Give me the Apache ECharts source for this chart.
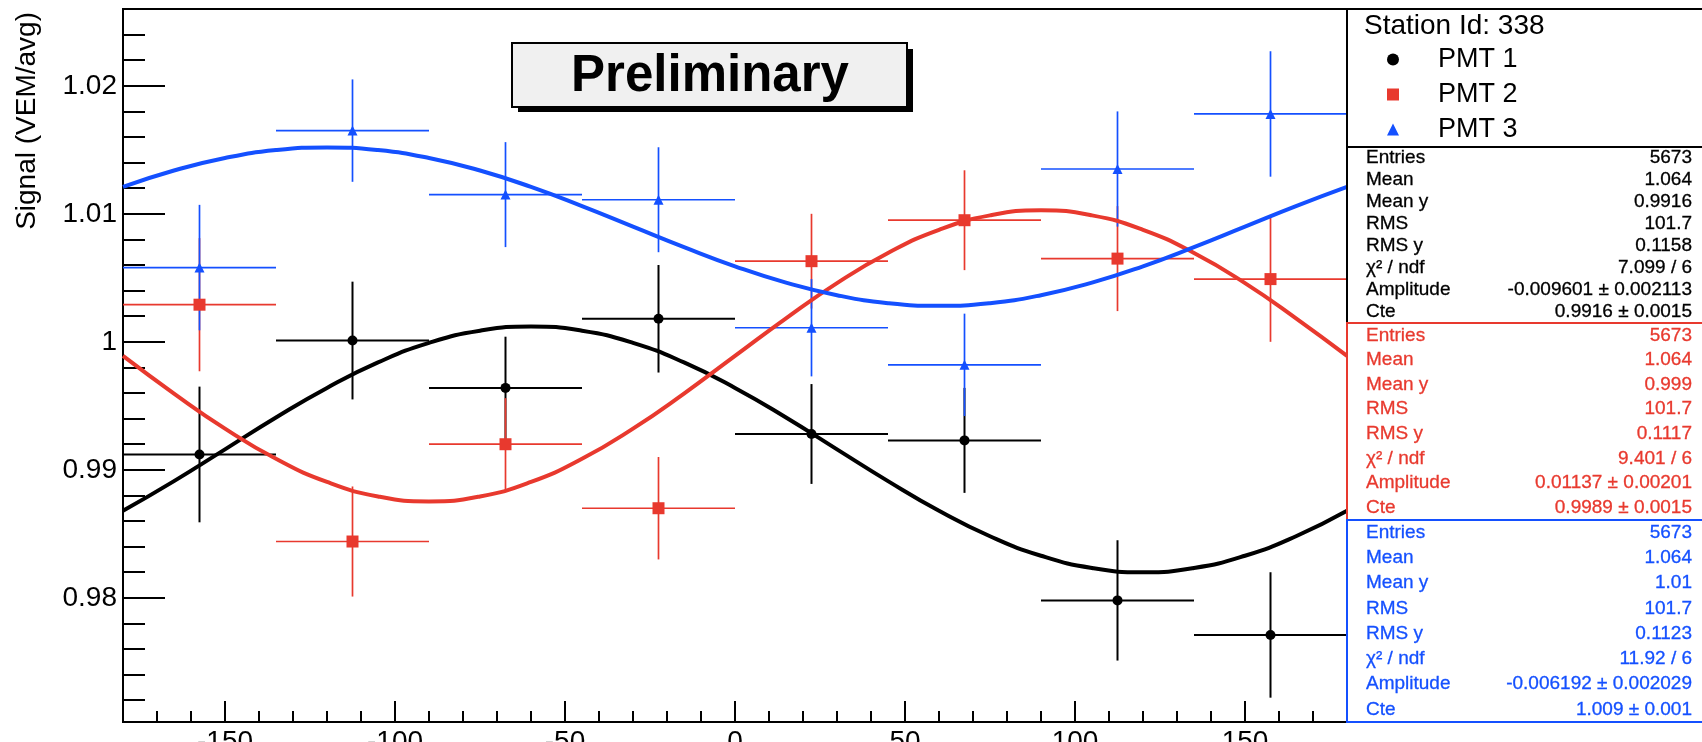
<!DOCTYPE html>
<html><head><meta charset="utf-8">
<script src="https://cdn.jsdelivr.net/npm/echarts@6/dist/echarts.min.js"></script>
<style>html,body{margin:0;padding:0;background:#fff}#c{width:1702px;height:742px}</style>
</head><body><div id="c"></div>
<script>
// ---- data ----
const xCenters     = [-157.5, -112.5, -67.5, -22.5, 22.5, 67.5, 112.5, 157.5];
const xHalfWidths  = [22.5, 22.5, 22.5, 22.5, 22.5, 22.5, 22.5, 22.5];

const pmt1Values = [0.9912, 1.0001, 0.9964, 1.0018, 0.9928, 0.9923, 0.9798, 0.9771];
const pmt1Errors = [0.0053, 0.0046, 0.0040, 0.0042, 0.0039, 0.0041, 0.0047, 0.0049];
const pmt2Values = [1.0029, 0.9844, 0.9920, 0.9870, 1.0063, 1.0095, 1.0065, 1.0049];
const pmt2Errors = [0.0052, 0.0043, 0.0036, 0.0040, 0.0037, 0.0039, 0.0041, 0.0049];
const pmt3Values = [1.0058, 1.0165, 1.0115, 1.0111, 1.0011, 0.9982, 1.0135, 1.0178];
const pmt3Errors = [0.0049, 0.0040, 0.0041, 0.0041, 0.0038, 0.0040, 0.0045, 0.0049];

// fitted curves, sampled every 15 degrees
const fitX = [-180,-165,-150,-135,-120,-105,-90,-75,-60,-45,-30,-15,0,15,30,45,60,75,90,105,120,135,150,165,180];
const pmt1Fit = [0.9868,0.98912,0.9916,0.99409,0.9964,0.99839,0.99992,1.00087,1.00120,1.00087,0.99992,0.99839,0.9964,0.99409,0.9916,0.98912,0.9868,0.98481,0.98329,0.98233,0.98200,0.98233,0.98329,0.98481,0.9868];
const pmt2Fit = [0.9989,0.99596,0.99322,0.99086,0.98905,0.98792,0.98753,0.98792,0.98905,0.99086,0.99322,0.99596,0.9989,1.00184,1.00459,1.00694,1.00875,1.00988,1.01027,1.00988,1.00875,1.00694,1.00459,1.00184,0.9989];
const pmt3Fit = [1.0121,1.01338,1.01436,1.01498,1.01519,1.01498,1.01436,1.01338,1.0121,1.0106,1.009,1.0074,1.0059,1.00462,1.00364,1.00302,1.00281,1.00302,1.00364,1.00462,1.0059,1.0074,1.009,1.0106,1.0121];

const xTickLabels = [-150, -100, -50, 0, 50, 100, 150];
const yTickLabels = [0.98, 0.99, 1, 1.01, 1.02];

const seriesNames = ['PMT 1', 'PMT 2', 'PMT 3'];
const stationTitle = 'Station Id: 338';
const yTitle = 'Signal (VEM/avg)';
const stampText = 'Preliminary';

const statLabels = ['Entries', 'Mean', 'Mean y', 'RMS', 'RMS y', 'χ² / ndf', 'Amplitude', 'Cte'];
const pmt1Stats = ['5673', '1.064', '0.9916', '101.7', '0.1158', '7.099 / 6', '-0.009601 ± 0.002113', '0.9916 ± 0.0015'];
const pmt2Stats = ['5673', '1.064', '0.999', '101.7', '0.1117', '9.401 / 6', '0.01137 ± 0.00201', '0.9989 ± 0.0015'];
const pmt3Stats = ['5673', '1.064', '1.01', '101.7', '0.1123', '11.92 / 6', '-0.006192 ± 0.002029', '1.009 ± 0.001'];

// ---- styling ----
const FONT = "'Liberation Sans', Arial, Helvetica, sans-serif";
const BLACK = '#000000', RED = '#e8392e', BLUE = '#1450ff';
const colors = [BLACK, RED, BLUE];
const symbols = ['circle', 'rect', 'triangle'];
const symbolSizes = [10, 12, 10];

const chart = echarts.init(document.getElementById('c'), null, {renderer: 'canvas'});

function errSeries(name, vals, errs, color, lw) {
  return {
    type: 'custom', name: name + ' errors', silent: true, z: 2,
    data: xCenters.map((x, i) => [x, vals[i], xHalfWidths[i], errs[i]]),
    encode: {x: 0, y: 1},
    renderItem: function (params, api) {
      const x = api.value(0), y = api.value(1), ex = api.value(2), ey = api.value(3);
      const l = api.coord([x - ex, y]), r = api.coord([x + ex, y]);
      const t = api.coord([x, y + ey]), b = api.coord([x, y - ey]);
      const st = {stroke: color, lineWidth: lw};
      return {type: 'group', children: [
        {type: 'line', shape: {x1: l[0], y1: l[1], x2: r[0], y2: r[1]}, style: st},
        {type: 'line', shape: {x1: t[0], y1: t[1], x2: b[0], y2: b[1]}, style: st}
      ]};
    }
  };
}
function pointSeries(k, vals) {
  return {
    type: 'scatter', name: seriesNames[k], symbol: symbols[k], symbolSize: symbolSizes[k], z: 3,
    itemStyle: {color: colors[k], opacity: 1}, silent: true,
    data: xCenters.map((x, i) => [x, vals[i]])
  };
}
function fitSeries(k, vals) {
  return {
    type: 'line', name: seriesNames[k] + ' fit', smooth: true, showSymbol: false, silent: true, z: 4,
    lineStyle: {color: colors[k], width: 4}, itemStyle: {color: colors[k]},
    data: fitX.map((x, i) => [x, vals[i]])
  };
}

const allValues = [pmt1Values, pmt2Values, pmt3Values];
const allErrors = [pmt1Errors, pmt2Errors, pmt3Errors];
const allFits = [pmt1Fit, pmt2Fit, pmt3Fit];
const series = [];
for (let k = 0; k < 3; k++) {
  series.push(errSeries(seriesNames[k], allValues[k], allErrors[k], colors[k], k === 0 ? 2 : 1.7));
  series.push(pointSeries(k, allValues[k]));
}
for (let k = 0; k < 3; k++) series.push(fitSeries(k, allFits[k]));

// ---- annotation boxes (legend frame & stat boxes) ----
const graphics = [];
graphics.push({type: 'text', x: 27, y: 12, rotation: Math.PI / 2, z: 100,
  style: {text: yTitle, font: '28px ' + FONT, fill: BLACK, align: 'right', verticalAlign: 'middle'}});
// Preliminary stamp
graphics.push({type: 'rect', shape: {x: 518, y: 49, width: 395, height: 63}, style: {fill: BLACK}, z: 100});
graphics.push({type: 'rect', shape: {x: 512, y: 43, width: 395, height: 64}, style: {fill: '#f0f0f0', stroke: BLACK, lineWidth: 2}, z: 101});
graphics.push({type: 'text', x: 710, y: 77, z: 102,
  style: {text: stampText, font: 'bold 51px ' + FONT, fill: BLACK, align: 'center', verticalAlign: 'middle'}});
// legend box
graphics.push({type: 'rect', shape: {x: 1347, y: 9, width: 400, height: 138}, style: {fill: '#fff', stroke: BLACK, lineWidth: 2}, z: 100});
graphics.push({type: 'text', x: 1364, y: 26, z: 101,
  style: {text: stationTitle, font: '28px ' + FONT, fill: BLACK, align: 'left', verticalAlign: 'middle'}});
// stat boxes
const statBoxes = [
  {top: 147, h: 176, color: BLACK, vals: pmt1Stats},
  {top: 323, h: 197, color: RED, vals: pmt2Stats},
  {top: 520, h: 202, color: BLUE, vals: pmt3Stats}
];
statBoxes.forEach((b, bi) => {
  graphics.push({type: 'rect', shape: {x: 1347, y: b.top, width: 400, height: b.h},
    style: {fill: '#fff', stroke: b.color, lineWidth: 2}, z: 100 + bi});
  const pitch = b.h / statLabels.length;
  statLabels.forEach((lab, i) => {
    const yy = b.top + (i + 0.5) * pitch;
    graphics.push({type: 'text', x: 1366, y: yy, z: 110,
      style: {text: lab, font: '19px ' + FONT, fill: b.color, align: 'left', verticalAlign: 'middle',
              stroke: b.color, lineWidth: 0.3}});
    graphics.push({type: 'text', x: 1692, y: yy, z: 110,
      style: {text: b.vals[i], font: '19px ' + FONT, fill: b.color, align: 'right', verticalAlign: 'middle',
              stroke: b.color, lineWidth: 0.3}});
  });
});

function near(list, v) { return list.some(t => Math.abs(t - v) < 1e-7); }

const option = {
  animation: false,
  backgroundColor: '#ffffff',
  textStyle: {fontFamily: FONT},
  grid: {left: 123, top: 9, right: 355, bottom: 20, show: true, borderColor: BLACK, borderWidth: 2,
         containLabel: false, outerBoundsMode: 'none'},
  legend: {
    orient: 'vertical', left: 1387, top: 42, itemWidth: 12, itemHeight: 12, itemGap: 0, padding: 0,
    selectedMode: false, z: 200, data: seriesNames,
    textStyle: {fontSize: 27, fontFamily: FONT, color: BLACK, lineHeight: 35, padding: [0, 0, 0, 34]}
  },
  xAxis: {
    type: 'value', min: -180, max: 180, splitNumber: 7,
    axisLine: {show: true, onZero: false, lineStyle: {color: BLACK, width: 2}},
    axisTick: {show: true, inside: true, length: 21, lineStyle: {color: BLACK, width: 2}},
    minorTick: {show: true, splitNumber: 5, length: 11, lineStyle: {color: BLACK, width: 2}},
    splitLine: {show: false},
    axisLabel: {margin: 6, fontSize: 28, color: BLACK, fontFamily: FONT, showMinLabel: false, showMaxLabel: false,
      formatter: v => near(xTickLabels, v) ? String(Math.round(v)) : ''}
  },
  yAxis: {
    type: 'value', min: 0.9703, max: 1.026, splitNumber: 5,
    axisLine: {show: true, onZero: false, lineStyle: {color: BLACK, width: 2}},
    axisTick: {show: true, inside: true, length: 42, lineStyle: {color: BLACK, width: 2}},
    minorTick: {show: true, splitNumber: 5, length: 22, lineStyle: {color: BLACK, width: 2}},
    splitLine: {show: false},
    axisLabel: {margin: 6, fontSize: 28, color: BLACK, fontFamily: FONT, showMinLabel: false, showMaxLabel: false,
      formatter: v => near(yTickLabels, v) ? String(Math.round(v * 100) / 100) : ''}
  },
  graphic: graphics,
  series: series
};
chart.setOption(option);
</script></body></html>
